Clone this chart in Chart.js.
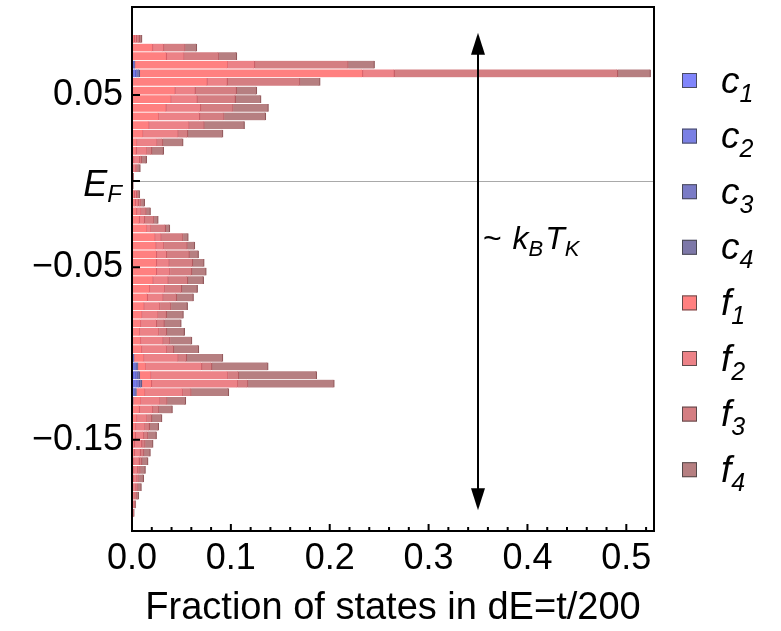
<!DOCTYPE html>
<html>
<head>
<meta charset="utf-8">
<script src="https://cdn.jsdelivr.net/npm/chart.js@4.4.1/dist/chart.umd.min.js"></script>
<style>
  html, body { margin: 0; padding: 0; background: #fff; }
  #wrap { width: 781px; height: 631px; }
</style>
</head>
<body>
<div id="wrap"><canvas id="histChart" width="781" height="631"></canvas></div>
<script>
// energy bin centres (dE = t/200), from the bottom of the plot to the top
const energias = [
  -0.1925, -0.1875, -0.1825, -0.1775, -0.1725, -0.1675, -0.1625, -0.1575, -0.1525, -0.1475,
  -0.1425, -0.1375, -0.1325, -0.1275, -0.1225, -0.1175, -0.1125, -0.1075, -0.1025, -0.0975,
  -0.0925, -0.0875, -0.0825, -0.0775, -0.0725, -0.0675, -0.0625, -0.0575, -0.0525, -0.0475,
  -0.0425, -0.0375, -0.0325, -0.0275, -0.0225, -0.0175, -0.0125, -0.0075, -0.0025,
  0.0025, 0.0075, 0.0125, 0.0175, 0.0225, 0.0275, 0.0325, 0.0375, 0.0425, 0.0475,
  0.0525, 0.0575, 0.0625, 0.0675, 0.0725, 0.0775, 0.0825
];

// fraction of states per bin, one list per orbital (same order as energias)
const c1 = [
  0, 0, 0, 0, 0, 0, 0, 0, 0, 0,
  0, 0, 0, 0.0003, 0.001, 0.0025, 0.002, 0.0015, 0.0005, 0.0002,
  0.0001, 0.0001, 0.0001, 0.0001, 0.0001, 0.0001, 0.0001, 0.0001, 0.0001, 0.0001,
  0.0001, 0, 0, 0, 0, 0, 0, 0, 0,
  0, 0, 0, 0, 0, 0.0001, 0.0001, 0.0001, 0.0001, 0.0001,
  0.0001, 0.0002, 0.0015, 0.0008, 0.0001, 0, 0
];
const c2 = [
  0, 0, 0, 0, 0, 0, 0, 0, 0, 0,
  0, 0, 0, 0.0003, 0.0012, 0.003, 0.0022, 0.0017, 0.0006, 0.0002,
  0.0001, 0.0001, 0.0001, 0.0001, 0.0001, 0.0001, 0.0001, 0.0001, 0.0001, 0.0001,
  0.0001, 0, 0, 0, 0, 0, 0, 0, 0,
  0, 0, 0, 0, 0, 0.0001, 0.0001, 0.0001, 0.0001, 0.0001,
  0.0001, 0.0002, 0.0025, 0.0008, 0.0001, 0, 0
];
const c3 = [
  0, 0, 0, 0, 0, 0, 0, 0, 0, 0,
  0, 0, 0, 0.0002, 0.001, 0.0022, 0.0018, 0.0014, 0.0004, 0.0002,
  0.0001, 0.0001, 0.0001, 0.0001, 0.0001, 0.0001, 0.0001, 0.0001, 0.0001, 0.0001,
  0.0001, 0, 0, 0, 0, 0, 0, 0, 0,
  0, 0, 0, 0, 0, 0.0001, 0.0001, 0.0001, 0.0001, 0.0001,
  0.0001, 0.0002, 0.0015, 0.0007, 0.0001, 0, 0
];
const c4 = [
  0, 0, 0, 0, 0, 0, 0, 0, 0, 0,
  0, 0, 0, 0.0002, 0.0012, 0.0023, 0.0018, 0.0014, 0.0005, 0.0001,
  0.0001, 0.0001, 0.0001, 0.0001, 0.0001, 0.0001, 0.0001, 0.0001, 0.0001, 0.0001,
  0.0001, 0, 0, 0, 0, 0, 0, 0, 0,
  0, 0, 0, 0, 0, 0.0001, 0.0001, 0.0001, 0.0001, 0.0001,
  0.0001, 0.0001, 0.0023, 0.0007, 0, 0, 0
];
const f1 = [
  0.0004, 0.0007, 0.001, 0.0014, 0.0017, 0.002, 0.002, 0.0027, 0.0027, 0.0037,
  0.0044, 0.0054, 0.0078, 0.0084, 0.0091, 0.0101, 0.0118, 0.0084, 0.0105, 0.0095,
  0.0088, 0.0078, 0.0088, 0.0101, 0.0122, 0.0155, 0.0179, 0.0213, 0.0247, 0.0247,
  0.0247, 0.0247, 0.0237, 0.0155, 0.0078, 0.0051, 0.0037, 0.0027, 0.0003,
  0.0003, 0.001, 0.002, 0.0047, 0.0054, 0.0111, 0.0172, 0.0271, 0.0345, 0.0395,
  0.0436, 0.0757, 0.2258, 0.0943, 0.0348, 0.0213, 0.0027
];
const f2 = [
  0.0007, 0.0014, 0.0024, 0.003, 0.0037, 0.0041, 0.0057, 0.0061, 0.0074, 0.0085,
  0.0091, 0.0101, 0.0135, 0.0193, 0.0382, 0.0872, 0.0777, 0.0564, 0.0345, 0.0253,
  0.0226, 0.0193, 0.0159, 0.0162, 0.0159, 0.0159, 0.0152, 0.0152, 0.0135, 0.0128,
  0.0101, 0.0078, 0.0061, 0.0041, 0.0051, 0.0044, 0.003, 0.002, 0.0003,
  0.0005, 0.0034, 0.006, 0.0108, 0.0203, 0.0355, 0.0405, 0.0412, 0.0348, 0.0264,
  0.0203, 0.0203, 0.032, 0.027, 0.0179, 0.0111, 0.002
];
const f3 = [
  0.0004, 0.0007, 0.0014, 0.0017, 0.002, 0.0024, 0.0024, 0.0034, 0.0034, 0.0041,
  0.0044, 0.0047, 0.0061, 0.0071, 0.0084, 0.0101, 0.0108, 0.0101, 0.0084, 0.0068,
  0.0068, 0.0078, 0.0078, 0.0084, 0.0111, 0.0135, 0.0169, 0.0196, 0.022, 0.0236,
  0.023, 0.0236, 0.022, 0.0145, 0.0095, 0.0051, 0.0027, 0.0014, 0.0003,
  0.0003, 0.001, 0.0017, 0.0047, 0.0057, 0.0095, 0.0152, 0.0247, 0.0328, 0.0385,
  0.0416, 0.0733, 0.2258, 0.0946, 0.0351, 0.0216, 0.003
];
const f4 = [
  0.0007, 0.001, 0.002, 0.0034, 0.0044, 0.0051, 0.0061, 0.0064, 0.0078, 0.0085,
  0.0091, 0.0101, 0.0135, 0.0186, 0.0378, 0.0872, 0.0787, 0.0568, 0.0365, 0.0253,
  0.022, 0.0179, 0.0169, 0.0169, 0.0166, 0.0169, 0.0159, 0.0159, 0.0145, 0.0115,
  0.0091, 0.0074, 0.0051, 0.0041, 0.0041, 0.0041, 0.0034, 0.0017, 0.0003,
  0.0005, 0.003, 0.0051, 0.0118, 0.0203, 0.0355, 0.0405, 0.0419, 0.0355, 0.0257,
  0.0203, 0.0203, 0.0331, 0.0264, 0.0179, 0.0115, 0.0024
];

const nombres = ["c1", "c2", "c3", "c4", "f1", "f2", "f3", "f4"];
const series = [c1, c2, c3, c4, f1, f2, f3, f4];

// axis ticks
const yTicks = [-0.15, -0.05, 0, 0.05];
const xMajor = 0.1;
const xMinor = 0.02;

// double arrow and its label (data coordinates)
const flechaX = 0.35;
const flechaArriba = 0.086;
const flechaAbajo = -0.191;

const rellenos = ["#8085fb", "#7a80e4", "#7a7bc6", "#7d78a8", "#ff8080", "#ec8287", "#d47e82", "#b67f81"];
const bordes = ["#5a60e0", "#5459c8", "#5656a6", "#5a5586", "#d8606a", "#c85e66", "#b25a60", "#92585b"];

const FUENTE = "'Liberation Sans', Arial, Helvetica, sans-serif";

const datasets = series.map((vals, i) => ({
  label: nombres[i],
  data: vals.map((v, k) => ({ x: v, y: energias[k] })),
  backgroundColor: rellenos[i],
  borderColor: bordes[i],
  borderWidth: { left: 0, right: 1.2, top: 0, bottom: 0 },
  borderSkipped: false,
  inflateAmount: 0.4,   // solapa un poco los segmentos para que no queden costuras blancas
  barPercentage: 0.9,
  categoryPercentage: 1.0,
}));

// texto con subindice: letra en cursiva + subindice
function textoSub(ctx, x, y, base, sub, size, subSize, drop) {
  ctx.font = "italic " + size + "px " + FUENTE;
  ctx.fillText(base, x, y);
  const w = ctx.measureText(base).width;
  ctx.font = "italic " + subSize + "px " + FUENTE;
  ctx.fillText(sub, x + w, y + drop);
  return x + w + ctx.measureText(sub).width;
}

const decoracion = {
  id: "decoracion",
  beforeDatasetsDraw(chart) {
    const { ctx, chartArea: a, scales } = chart;
    const yz = Math.round(scales.y.getPixelForValue(0)) + 0.5;
    ctx.save();
    ctx.strokeStyle = "#a9a9a9";
    ctx.lineWidth = 1;
    ctx.beginPath();
    ctx.moveTo(a.left, yz);
    ctx.lineTo(a.right, yz);
    ctx.stroke();
    ctx.restore();
  },
  afterDatasetsDraw(chart) {
    const { ctx, chartArea: a, scales } = chart;
    const x = scales.x, y = scales.y;
    ctx.save();
    ctx.strokeStyle = "#000";
    ctx.lineWidth = 2;
    // ticks hacia dentro
    ctx.beginPath();
    yTicks.forEach((v) => {
      const py = y.getPixelForValue(v);
      ctx.moveTo(a.left, py);
      ctx.lineTo(a.left + 8, py);
    });
    for (let i = 0; i * xMinor <= x.max + 1e-9; i++) {
      const v = i * xMinor;
      const px = x.getPixelForValue(v);
      const mayor = Math.abs(v / xMajor - Math.round(v / xMajor)) < 1e-6;
      ctx.moveTo(px, a.bottom);
      ctx.lineTo(px, a.bottom - (mayor ? 7 : 4));
    }
    ctx.stroke();
    // marco
    ctx.strokeRect(a.left, a.top, a.right - a.left, a.bottom - a.top);

    // flecha doble
    const ax = Math.round(x.getPixelForValue(flechaX));
    const yT = y.getPixelForValue(flechaArriba);
    const yB = y.getPixelForValue(flechaAbajo);
    const largo = 22, medio = 7;
    ctx.beginPath();
    ctx.moveTo(ax, yT + largo - 2);
    ctx.lineTo(ax, yB - largo + 2);
    ctx.stroke();
    ctx.fillStyle = "#000";
    ctx.beginPath();
    ctx.moveTo(ax, yT);
    ctx.lineTo(ax - medio, yT + largo);
    ctx.lineTo(ax + medio, yT + largo);
    ctx.closePath();
    ctx.fill();
    ctx.beginPath();
    ctx.moveTo(ax, yB);
    ctx.lineTo(ax - medio, yB - largo);
    ctx.lineTo(ax + medio, yB - largo);
    ctx.closePath();
    ctx.fill();

    // etiqueta ~ kB TK
    const by = y.getPixelForValue(-0.0395);
    let tx = ax + 5;
    ctx.textBaseline = "alphabetic";
    ctx.textAlign = "left";
    ctx.font = "32px " + FUENTE;
    ctx.fillText("~", tx, by);
    tx += ctx.measureText("~ ").width + 2;
    tx = textoSub(ctx, tx, by, "k", "B", 32, 22, 7);
    tx = textoSub(ctx, tx + 2, by, "T", "K", 32, 22, 7);
    ctx.restore();
  },
  afterDraw(chart) {
    const { ctx, chartArea: a, scales } = chart;
    ctx.save();
    ctx.fillStyle = "#000";
    ctx.textBaseline = "alphabetic";
    ctx.textAlign = "left";
    // etiqueta E_F en el eje y
    const yz = scales.y.getPixelForValue(0);
    ctx.font = "italic 24px " + FUENTE;
    const wF = ctx.measureText("F").width;
    ctx.font = "italic 36px " + FUENTE;
    const wE = ctx.measureText("E").width;
    const xE = a.left - 10 - wF - wE;
    textoSub(ctx, xE, yz + 15, "E", "F", 36, 24, 6);

    // leyenda
    const lx = 682, ly0 = 80.5, paso = 55.6;
    chart.data.datasets.forEach((ds, i) => {
      const cy = ly0 + i * paso;
      ctx.fillStyle = ds.backgroundColor;
      ctx.fillRect(lx, cy - 7.5, 15, 15);
      ctx.strokeStyle = "rgba(60,60,60,0.8)";
      ctx.lineWidth = 1;
      ctx.strokeRect(lx + 0.5, cy - 7, 14, 14);
      ctx.fillStyle = "#000";
      textoSub(ctx, 721, cy + 12, ds.label.charAt(0), ds.label.slice(1), 37, 25, 9);
    });
    ctx.restore();
  },
};

const chart = new Chart(document.getElementById("histChart").getContext("2d"), {
  type: "bar",
  data: { datasets: datasets },
  options: {
    indexAxis: "y",
    responsive: false,
    animation: false,
    layout: { padding: { left: 0, right: 127, top: 7, bottom: 0 } },
    plugins: { legend: { display: false }, tooltip: { enabled: false } },
    scales: {
      x: {
        type: "linear",
        stacked: true,
        min: 0,
        max: 0.528,
        offset: false,
        grid: { display: false, drawTicks: false },
        border: { display: false },
        ticks: {
          stepSize: xMajor,
          includeBounds: false,
          autoSkip: false,
          maxRotation: 0,
          padding: 6,
          color: "#000",
          font: { family: FUENTE, size: 36 },
          callback: (v) => v.toFixed(1),
        },
        title: {
          display: true,
          text: "Fraction of states in dE=t/200",
          color: "#000",
          font: { family: FUENTE, size: 38, lineHeight: 1 },
          padding: { top: 0, bottom: 3 },
        },
        afterFit: (s) => { s.height = 100; s.paddingLeft = 0; s.paddingRight = 0; },
      },
      y: {
        type: "linear",
        stacked: true,
        min: -0.203,
        max: 0.101,
        offset: false,
        grid: { display: false, drawTicks: false },
        border: { display: false },
        afterBuildTicks: (s) => { s.ticks = yTicks.map((v) => ({ value: v })); },
        ticks: {
          padding: 9,
          color: "#000",
          font: { family: FUENTE, size: 36 },
          callback: (v) => (v === 0 ? "" : (v < 0 ? "\u2212" + Math.abs(v).toFixed(2) : v.toFixed(2))),
        },
        afterFit: (s) => { s.width = 132; s.paddingTop = 0; s.paddingBottom = 0; },
      },
    },
  },
  plugins: [decoracion],
});
</script>
</body>
</html>
